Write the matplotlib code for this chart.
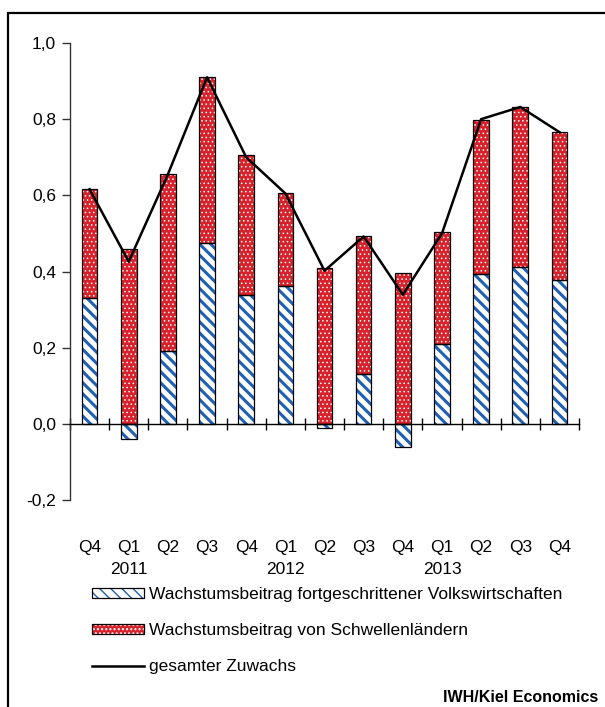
import numpy as np
import matplotlib
matplotlib.use('Agg')
import matplotlib.pyplot as plt
from matplotlib.patches import Patch, Rectangle
from matplotlib.lines import Line2D

plt.rcParams['font.family'] = ['Liberation Sans', 'DejaVu Sans']

# Daten
quartale = ['Q4', 'Q1', 'Q2', 'Q3', 'Q4', 'Q1', 'Q2', 'Q3', 'Q4', 'Q1', 'Q2', 'Q3', 'Q4']
jahre = {1: '2011', 5: '2012', 9: '2013'}
fortgeschritten = [0.331, -0.04, 0.192, 0.476, 0.338, 0.363, -0.01, 0.131, -0.06, 0.21, 0.393, 0.413, 0.378]
schwellen = [0.285, 0.460, 0.465, 0.434, 0.368, 0.244, 0.410, 0.361, 0.397, 0.293, 0.405, 0.419, 0.388]
gesamt = [0.616, 0.426, 0.655, 0.910, 0.700, 0.605, 0.402, 0.492, 0.339, 0.500, 0.800, 0.832, 0.766]

blau = '#1f5fb4'
rot = '#d7212b'
fs = 12.5

fig = plt.figure(figsize=(6.05, 7.07), dpi=100)
ax = fig.add_axes([70/605, 1 - 500/707, 509/605, 457/707])

x = np.arange(len(quartale))
breite = 0.4
unten_rot = np.maximum(fortgeschritten, 0)

# Balken: Schraffur, danach schwarzer Rand
with plt.rc_context({'hatch.linewidth': 2.2}):
    ax.bar(x, fortgeschritten, breite, color='white', edgecolor=blau, hatch='\\\\\\', linewidth=0, zorder=2)
    h_blau_fill = Patch(facecolor='white', edgecolor=blau, hatch='\\\\\\', linewidth=0)
with plt.rc_context({'hatch.linewidth': 0.6}):
    ax.bar(x, schwellen, breite, bottom=unten_rot, color=rot, edgecolor='white', hatch='....', linewidth=0, zorder=2)
    h_rot_fill = Patch(facecolor=rot, edgecolor='white', hatch='....', linewidth=0)
ax.bar(x, fortgeschritten, breite, fill=False, edgecolor='black', linewidth=0.9, zorder=3)
ax.bar(x, schwellen, breite, bottom=unten_rot, fill=False, edgecolor='black', linewidth=0.9, zorder=3)

ax.plot(x, gesamt, color='black', linewidth=1.8, zorder=4)

ax.set_xlim(-0.5, len(quartale) - 0.5)
ax.set_ylim(-0.2, 1.0)

for s in ['top', 'right']:
    ax.spines[s].set_visible(False)
ax.spines['bottom'].set_position(('data', 0))
ax.spines['bottom'].set_linewidth(1.0)
ax.spines['left'].set_color('#333333')
ax.spines['left'].set_linewidth(1.0)

ax.set_yticks(np.arange(-0.2, 1.01, 0.2))
ax.set_yticklabels([f'{v:.1f}'.replace('.', ',') for v in np.arange(-0.2, 1.01, 0.2)])
ax.tick_params(axis='y', direction='out', length=6, width=1, color='#333333', labelsize=fs, pad=4)
ax.set_xticks(np.arange(-0.5, len(quartale), 1.0))
ax.tick_params(axis='x', direction='inout', length=9, width=1, labelbottom=False)

tr = ax.get_xaxis_transform()
for i, q in enumerate(quartale):
    ax.text(i, -0.103, q, transform=tr, ha='center', va='center', fontsize=fs)
for i, j in jahre.items():
    ax.text(i, -0.153, j, transform=tr, ha='center', va='center', fontsize=fs)

# Legende
rand = Patch(fill=False, edgecolor='black', linewidth=0.9)
h_linie = Line2D([], [], color='black', linewidth=1.8)
fig.legend([(h_blau_fill, rand), (h_rot_fill, rand), h_linie],
           ['Wachstumsbeitrag fortgeschrittener Volkswirtschaften',
            'Wachstumsbeitrag von Schwellenländern',
            'gesamter Zuwachs'],
           loc='upper left', bbox_to_anchor=(92/605, 1 - 587/707), frameon=False,
           fontsize=fs, handlelength=3.0, handleheight=0.55, handletextpad=0.3,
           labelspacing=1.22, borderpad=0, borderaxespad=0)

fig.text(598/605, 1 - 697/707, 'IWH/Kiel Economics', ha='right', va='center',
         fontsize=11.5, fontweight='bold')

# Rahmen
fig.add_artist(Rectangle((8/605, -0.1), 1.2, 1 - 13/707 + 0.1, transform=fig.transFigure,
                         fill=False, edgecolor='black', linewidth=1.6))

fig.savefig('out.png', dpi=100)
